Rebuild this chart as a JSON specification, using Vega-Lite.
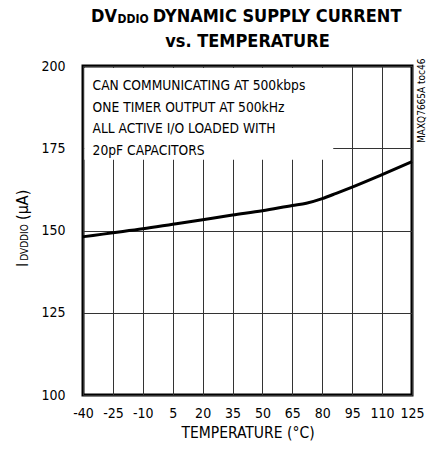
{
  "$schema": "https://vega.github.io/schema/vega-lite/v6.json",
  "width": 329,
  "height": 329,
  "autosize": "none",
  "padding": {"left": 83, "top": 66, "right": 21, "bottom": 63},
  "background": "white",
  "config": {
    "view": {"stroke": "black", "strokeWidth": 3},
    "font": "DejaVu Sans Condensed, Roboto, sans-serif",
    "text": {"font": "DejaVu Sans Condensed, Roboto, sans-serif", "color": "black"}
  },
  "layer": [
    {
      "data": {"values": [
        {"t": -40, "i": 148.1},
        {"t": -35, "i": 148.5},
        {"t": -25, "i": 149.3},
        {"t": -10, "i": 150.5},
        {"t": 5, "i": 151.9},
        {"t": 20, "i": 153.3},
        {"t": 35, "i": 154.7},
        {"t": 50, "i": 156.0},
        {"t": 65, "i": 157.6},
        {"t": 72, "i": 158.3},
        {"t": 80, "i": 159.7},
        {"t": 87, "i": 161.3},
        {"t": 95, "i": 163.2},
        {"t": 110, "i": 167.0},
        {"t": 125, "i": 170.9}
      ]},
      "mark": {"type": "line", "color": "black", "strokeWidth": 3, "interpolate": "monotone"},
      "encoding": {
        "x": {
          "field": "t", "type": "quantitative",
          "scale": {"domain": [-40, 125], "nice": false, "zero": false},
          "axis": {
            "values": [-40, -25, -10, 5, 20, 35, 50, 65, 80, 95, 110, 125],
            "tickCount": 12,
            "labelExpr": "'' + datum.value",
            "title": "TEMPERATURE (°C)",
            "grid": true, "gridColor": "#333", "gridWidth": 1, "gridOpacity": 1,
            "ticks": false, "domain": false,
            "labelFont": "DejaVu Sans Condensed, Roboto, sans-serif", "labelFontSize": 14, "labelColor": "black",
            "labelPadding": 11, "labelFlush": false, "labelOverlap": false,
            "titleFont": "DejaVu Sans Condensed, Roboto, sans-serif", "titleFontSize": 15.5, "titleFontWeight": "normal",
            "titleColor": "black", "titlePadding": 5
          }
        },
        "y": {
          "field": "i", "type": "quantitative",
          "scale": {"domain": [100, 200], "nice": false, "zero": false},
          "axis": {
            "values": [100, 125, 150, 175, 200],
            "tickCount": 5,
            "title": null,
            "grid": true, "gridColor": "#333", "gridWidth": 1, "gridOpacity": 1,
            "ticks": false, "domain": false,
            "labelFont": "DejaVu Sans Condensed, Roboto, sans-serif", "labelFontSize": 14, "labelColor": "black",
            "labelPadding": 18, "labelFlush": false, "labelOverlap": false
          }
        }
      }
    },
    {
      "data": {"values": [{}]},
      "mark": {"type": "rect", "fill": "white", "stroke": null},
      "encoding": {
        "x": {"datum": -39.3, "type": "quantitative"},
        "x2": {"datum": 85.5},
        "y": {"datum": 171.5, "type": "quantitative"},
        "y2": {"datum": 199.4}
      }
    },
    {
      "data": {"values": [{}]},
      "mark": {"type": "text", "align": "left", "baseline": "alphabetic", "fontSize": 13.7, "lineHeight": 21.7,
        "text": ["CAN COMMUNICATING AT 500kbps", "ONE TIMER OUTPUT AT 500kHz", "ALL ACTIVE I/O LOADED WITH", "20pF CAPACITORS"]},
      "encoding": {"x": {"datum": -35.2}, "y": {"datum": 192.7}}
    },
    {
      "data": {"values": [{}]},
      "mark": {"type": "text", "align": "left", "baseline": "alphabetic", "fontSize": 10, "angle": 270, "text": "MAXQ7665A toc46"},
      "encoding": {"x": {"datum": 131.3}, "y": {"datum": 176.6}}
    },
    {
      "data": {"values": [{}]},
      "mark": {"type": "text", "align": "right", "baseline": "alphabetic", "fontSize": 18, "fontWeight": "bold", "text": "DV"},
      "encoding": {"x": {"datum": -22.9}, "y": {"datum": 213.5}}
    },
    {
      "data": {"values": [{}]},
      "mark": {"type": "text", "align": "left", "baseline": "alphabetic", "fontSize": 12, "fontWeight": "bold", "text": "DDIO"},
      "encoding": {"x": {"datum": -22.7}, "y": {"datum": 213.0}}
    },
    {
      "data": {"values": [{}]},
      "mark": {"type": "text", "align": "left", "baseline": "alphabetic", "fontSize": 18, "fontWeight": "bold", "text": "DYNAMIC SUPPLY CURRENT"},
      "encoding": {"x": {"datum": -5.0}, "y": {"datum": 213.5}}
    },
    {
      "data": {"values": [{}]},
      "mark": {"type": "text", "align": "center", "baseline": "alphabetic", "fontSize": 18, "fontWeight": "bold", "text": "vs. TEMPERATURE"},
      "encoding": {"x": {"datum": 42.5}, "y": {"datum": 205.8}}
    },
    {
      "data": {"values": [{}]},
      "mark": {"type": "text", "align": "left", "baseline": "alphabetic", "fontSize": 16, "angle": 270, "text": "I"},
      "encoding": {"x": {"datum": -67.6}, "y": {"datum": 138.9}}
    },
    {
      "data": {"values": [{}]},
      "mark": {"type": "text", "align": "left", "baseline": "alphabetic", "fontSize": 10, "angle": 270, "text": "DVDDIO"},
      "encoding": {"x": {"datum": -67.6}, "y": {"datum": 140.8}}
    },
    {
      "data": {"values": [{}]},
      "mark": {"type": "text", "align": "left", "baseline": "alphabetic", "fontSize": 16, "angle": 270, "text": "(µA)"},
      "encoding": {"x": {"datum": -67.6}, "y": {"datum": 153.2}}
    }
  ]
}
